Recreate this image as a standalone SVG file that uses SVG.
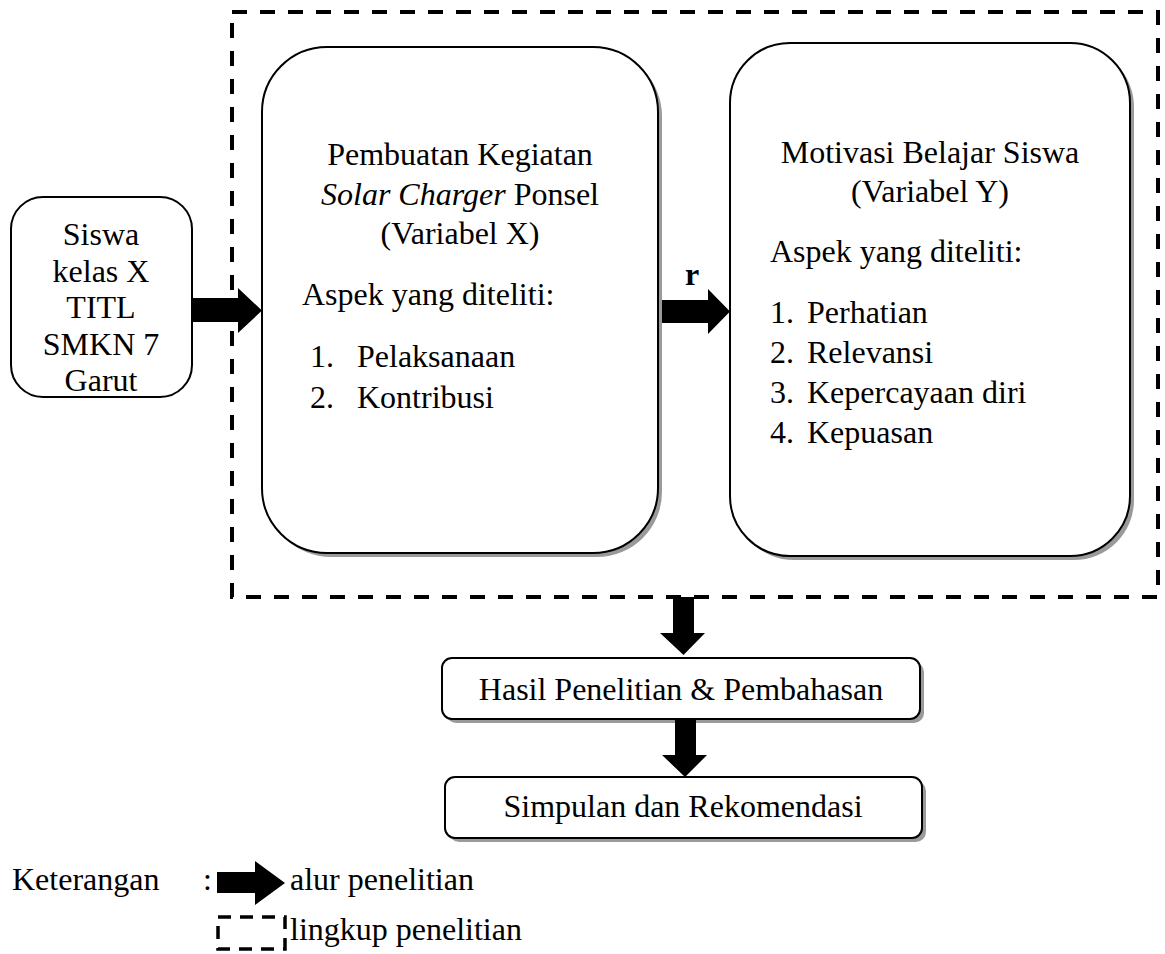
<svg xmlns="http://www.w3.org/2000/svg" width="1165" height="954" viewBox="0 0 1165 954" font-family="'Liberation Serif', 'Times New Roman', serif">
<style>
text{font-family:'Liberation Serif','Times New Roman',serif;font-size:32px;fill:#000}
.c{text-anchor:middle}
.box{fill:#fff;stroke:#000;stroke-width:2}
.sh{fill:#9a9a9a}
.arr{fill:#000}
.dash{fill:none;stroke:#000;stroke-width:4;stroke-dasharray:15 13}
</style>
<rect width="1165" height="954" fill="#fff"/>
<g id="scope">
<rect class="dash" x="232" y="12" width="926" height="585"/>
</g>
<g id="siswa">
<rect class="box" x="11" y="197" width="181" height="200" rx="32"/>
<text class="c" x="101" y="245">Siswa</text>
<text class="c" x="101" y="282">kelas X</text>
<text class="c" x="101" y="318">TITL</text>
<text class="c" x="101" y="355">SMKN 7</text>
<text class="c" x="101" y="391">Garut</text>
</g>
<g id="varX">
<rect class="sh" x="266" y="51" width="396" height="506" rx="65"/>
<rect class="box" x="262" y="47" width="396" height="506" rx="65"/>
<text class="c" x="460" y="165">Pembuatan Kegiatan</text>
<text class="c" x="460" y="205"><tspan font-style="italic">Solar Charger</tspan> Ponsel</text>
<text class="c" x="460" y="244">(Variabel X)</text>
<text x="302" y="305">Aspek yang diteliti:</text>
<text x="310" y="367">1.</text><text x="357" y="367">Pelaksanaan</text>
<text x="310" y="408">2.</text><text x="357" y="408">Kontribusi</text>
</g>
<g id="varY">
<rect class="sh" x="734" y="47" width="400" height="513" rx="60"/>
<rect class="box" x="730" y="43" width="400" height="513" rx="60"/>
<text class="c" x="930" y="163">Motivasi Belajar Siswa</text>
<text class="c" x="930" y="202">(Variabel Y)</text>
<text x="770" y="262">Aspek yang diteliti:</text>
<text x="770" y="323">1.</text><text x="807" y="323">Perhatian</text>
<text x="770" y="363">2.</text><text x="807" y="363">Relevansi</text>
<text x="770" y="403">3.</text><text x="807" y="403">Kepercayaan diri</text>
<text x="770" y="443">4.</text><text x="807" y="443">Kepuasan</text>
</g>
<g id="hasil">
<rect class="sh" x="446" y="662" width="478" height="61" rx="10"/>
<rect class="box" x="442" y="658" width="478" height="61" rx="10"/>
<text class="c" x="681" y="700">Hasil Penelitian &amp; Pembahasan</text>
</g>
<g id="simpulan">
<rect class="sh" x="449" y="781" width="477" height="61" rx="10"/>
<rect class="box" x="445" y="777" width="477" height="61" rx="10"/>
<text class="c" x="683" y="817">Simpulan dan Rekomendasi</text>
</g>
<g id="connectors">
<polygon class="arr" points="192,298 238,298 238,288 262,310.5 238,333 238,322 192,322"/>
<polygon class="arr" points="662,300 708,300 708,289 730,311.5 708,334 708,323 662,323"/>
<text x="692" y="285" class="c" font-weight="bold">r</text>
<polygon class="arr" points="673,597 694,597 694,633 705,633 683.5,655 660,633 673,633"/>
<polygon class="arr" points="675,719 696,719 696,755 707,755 685,777 662,755 675,755"/>
</g>
<g id="legend">
<text x="12" y="890">Keterangan</text>
<text x="203" y="890">:</text>
<polygon class="arr" points="217,872 255,872 255,861 285,883 255,905 255,893 217,893"/>
<text x="290" y="890">alur penelitian</text>
<rect x="218" y="917" width="67" height="32" fill="none" stroke="#000" stroke-width="3.5" stroke-dasharray="13 9"/>
<text x="290" y="940">lingkup penelitian</text>
</g>
</svg>
